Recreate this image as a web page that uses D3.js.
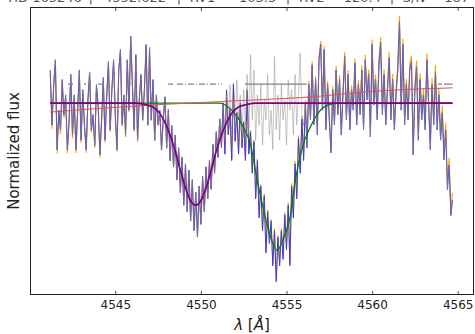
<!doctype HTML>
<html>
<head>
    <style>
        body { margin: 0; background: #fff; }
        text { font-family: "DejaVu Sans", sans-serif; }
    </style>
    <script src="https://d3js.org/d3.v7.min.js"></script>
</head>
<body>
<div id="spectrum"></div>
<script>

    // wavelength grid of the observed spectrum (Angstrom)
    var waveStart = 4541.2;
    var waveStep = 0.1;

    // observed normalized flux, one value per grid step
    var fluxObs = [
        1.052, 0.966, 1.029, 1.068, 0.927, 0.989, 0.958, 1.037,
        0.982, 1.013, 0.927, 0.974, 1.045, 0.950, 1.013, 0.927, 0.989, 1.052,
        0.942, 1.021, 0.966, 0.927, 1.005, 1.049, 0.958, 0.982, 0.934, 1.029,
        0.997, 0.919, 0.974, 1.040, 0.942, 1.013, 1.065, 0.958, 1.021, 1.068,
        0.982, 0.927, 1.052, 1.084, 0.966, 1.013, 0.950, 1.068, 0.989, 1.105,
        1.029, 0.958, 1.076, 0.942, 1.005, 1.045, 0.974, 1.021, 1.092, 0.966,
        1.087, 0.974, 1.037, 0.942, 1.013, 0.966, 0.989, 0.927, 0.974,
        1.01, 0.93, 0.99, 0.91, 0.965, 0.90, 0.95, 0.88, 0.93, 0.86,
        0.915, 0.84, 0.905, 0.83, 0.895, 0.815, 0.88, 0.80, 0.86, 0.79,
        0.87, 0.81, 0.885, 0.83, 0.90, 0.85, 0.91, 0.865, 0.935, 0.89,
        0.955, 0.915, 0.975, 0.93,
        1.00, 0.92, 1.02, 0.95, 0.99, 0.91, 1.03, 0.94, 0.985, 0.92,
        1.00, 0.93, 0.97, 0.91, 1.02, 0.92, 0.955, 0.89,
        0.94, 0.85, 0.91, 0.82, 0.87, 0.80, 0.855, 0.765, 0.83, 0.78,
        0.815, 0.745, 0.80, 0.72, 0.79, 0.745, 0.80, 0.755, 0.825, 0.77,
        0.84, 0.745, 0.87, 0.82, 0.905, 0.85, 0.945, 0.89, 0.975, 0.91,
        1.00, 0.93, 1.03,
        0.974, 1.060, 0.966, 1.037, 0.950, 1.068, 1.092, 0.989, 1.084, 0.958,
        1.029, 0.974, 0.922, 1.021, 0.966, 1.052, 0.982, 1.037, 0.950, 1.013,
        1.073, 0.974, 1.045, 0.958, 1.021, 0.989, 1.063, 0.966, 1.029, 0.982,
        1.052, 0.958, 1.068, 1.005, 1.045, 0.947, 1.092, 0.997, 1.037, 0.974,
        1.060, 1.095, 0.982, 1.045, 0.966, 1.021, 1.071, 0.974, 1.037, 0.958,
        1.013, 1.052, 1.128, 0.989, 1.092, 0.966, 1.029, 0.974, 1.052, 1.065,
        0.919, 1.021, 1.057, 0.942, 1.037, 0.974, 1.013, 0.958, 1.068, 0.997,
        0.927, 1.029, 0.966, 1.049, 0.958, 1.013, 0.942, 0.985, 0.911, 0.958,
        0.864, 0.903, 0.824, 0.848
    ];

    // spectrum with the second component removed, where it differs (grid index 101..148)
    var residStart = 101;
    var fluxResid = [
        0.997, 0.942, 1.013, 0.966, 1.029, 0.950, 1.005, 0.958, 1.037, 0.974,
        1.013, 0.942, 1.021, 0.966, 1.045, 0.950, 1.076, 0.974, 1.052, 0.942,
        1.013, 0.966, 1.029, 0.934, 1.005, 0.974, 1.045, 0.950, 0.989, 0.927,
        1.073, 0.958, 1.013, 0.942, 1.029, 0.974, 1.005, 0.934, 1.037, 0.989,
        1.021, 0.950, 1.045, 0.966, 1.013, 1.079, 0.982, 0.965
    ];

    // model profiles [wavelength, flux]
    var modelPrimary = [
        [4541.2, 1], [4546.2, 1], [4546.7, 0.998], [4547.2, 0.994], [4547.6, 0.984],
        [4547.9, 0.970], [4548.2, 0.950], [4548.5, 0.925], [4548.8, 0.895], [4549.1, 0.867],
        [4549.4, 0.847], [4549.7, 0.840], [4550.0, 0.847], [4550.3, 0.867], [4550.6, 0.895],
        [4550.9, 0.925], [4551.2, 0.950], [4551.5, 0.970], [4551.8, 0.984], [4552.2, 0.994],
        [4552.7, 0.998], [4553.2, 1], [4564.7, 1]
    ];
    var modelSecondary = [
        [4541.2, 1], [4551.1, 1.0], [4551.5, 0.996], [4551.9, 0.986], [4552.45, 0.964],
        [4552.9, 0.935], [4553.3, 0.878], [4553.75, 0.822], [4554.05, 0.792], [4554.45, 0.769],
        [4554.85, 0.790], [4555.2, 0.820], [4555.5, 0.876], [4555.9, 0.928], [4556.4, 0.963],
        [4556.95, 0.988], [4557.4, 0.997], [4558.1, 1.0], [4564.7, 1.0]
    ];
    var continuumFit = [
        [4541.2, 0.986], [4547.0, 0.997], [4550.0, 1.001], [4552.3, 1.004],
        [4557.0, 1.011], [4559.3, 1.017], [4564.7, 1.024]
    ];

    // masked regions drawn at the top level
    var maskLevel = 1.03;
    var maskRanges = [
        [4542.24, 4542.53], [4543.17, 4543.29], [4543.47, 4543.58], [4543.99, 4544.28],
        [4545.80, 4545.92], [4548.08, 4548.37], [4548.60, 4551.23], [4552.58, 4556.20],
        [4563.85, 4564.08], [4564.20, 4564.70]
    ];

    var xTicks = [4545, 4550, 4555, 4560, 4565];
    var titleParts = ["HD 165246", "4552.622", "RV1 = -103.5", "RV2 = 120.4", "S/N = 187"];

    // setup the canvas
    var canvasWidth = 475;
    var canvasHeight = 334;
    var pLeft = 30.5, pRight = 473.5, pTop = 7.5, pBottom = 294.5;

    var svg = d3.select("#spectrum").append("svg")
        .attr("width", canvasWidth)
        .attr("height", canvasHeight);

    var x = d3.scaleLinear().domain([4540.047, 4565.923]).range([pLeft, pRight]);
    var y = d3.scaleLinear().domain([0.7, 1.15]).range([pBottom, pTop]);

    // build the point tables
    var obsPts = fluxObs.map(function(f, i) { return [waveStart + waveStep * i, f]; });
    var grayPts = obsPts.map(function(p, i) {
        var k = i - residStart;
        if (k >= 0 && k < fluxResid.length) return [p[0], fluxResid[k]];
        return p;
    });

    var line = d3.line()
        .x(function(d) { return x(d[0]); })
        .y(function(d) { return y(d[1]); });
    var smooth = d3.line()
        .x(function(d) { return x(d[0]); })
        .y(function(d) { return y(d[1]); })
        .curve(d3.curveMonotoneX);

    svg.append("defs").append("clipPath").attr("id", "plotclip")
        .append("rect").attr("x", pLeft).attr("y", pTop)
        .attr("width", pRight - pLeft).attr("height", pBottom - pTop);

    var plot = svg.append("g").attr("clip-path", "url(#plotclip)");

    // spectra: the un-renormalized copy sits a little lower on the left, higher on the right
    var shear = -0.028;
    plot.append("path").datum(obsPts)
        .attr("d", line)
        .attr("transform", "matrix(1," + shear + ",0,1,0," + (4 - shear * 50) + ")")
        .attr("fill", "none")
        .attr("stroke", "#ffa500")
        .attr("stroke-width", 1.1);

    plot.append("path").datum(obsPts)
        .attr("d", line)
        .attr("fill", "none")
        .attr("stroke", "#3a3ae6")
        .attr("stroke-width", 1);

    plot.append("path").datum(grayPts)
        .attr("d", line)
        .attr("fill", "none")
        .attr("stroke", "#8c8c8c")
        .attr("stroke-opacity", 0.48)
        .attr("stroke-width", 1);

    // mask level
    plot.selectAll(".mask")
        .data(maskRanges)
        .join("line")
        .attr("class", "mask")
        .attr("x1", function(d) { return x(d[0]); })
        .attr("x2", function(d) { return x(d[1]); })
        .attr("y1", y(maskLevel))
        .attr("y2", y(maskLevel))
        .attr("stroke", "#808080")
        .attr("stroke-width", 1.2)
        .attr("stroke-dasharray", function(d) { return (d[1] - d[0] > 2 && d[0] < 4550) ? "6,2,1,2" : null; });

    // models
    plot.append("path").datum(modelSecondary)
        .attr("d", smooth)
        .attr("fill", "none")
        .attr("stroke", "#008000")
        .attr("stroke-width", 1.3);

    plot.append("path").datum(continuumFit)
        .attr("d", smooth)
        .attr("fill", "none")
        .attr("stroke", "#d9534f")
        .attr("stroke-width", 1);

    plot.append("path").datum(modelPrimary)
        .attr("d", smooth)
        .attr("fill", "none")
        .attr("stroke", "#800080")
        .attr("stroke-width", 1.7);

    // axes with inward ticks
    var xAxisBottom = svg.append("g")
        .attr("transform", "translate(0," + pBottom + ")")
        .call(d3.axisBottom(x).tickValues(xTicks).tickFormat(d3.format("d"))
            .tickSizeInner(-3.5).tickSizeOuter(0).tickPadding(6));
    xAxisBottom.select(".domain").remove();
    xAxisBottom.selectAll("text")
        .attr("font-size", "12px")
        .attr("font-family", "DejaVu Sans")
        .attr("fill", "#222");
    xAxisBottom.selectAll("line").attr("stroke", "#222").attr("stroke-width", 0.8);

    var xAxisTop = svg.append("g")
        .attr("transform", "translate(0," + pTop + ")")
        .call(d3.axisTop(x).tickValues(xTicks).tickFormat("")
            .tickSizeInner(-3.5).tickSizeOuter(0));
    xAxisTop.select(".domain").remove();
    xAxisTop.selectAll("line").attr("stroke", "#222").attr("stroke-width", 0.8);

    // frame
    svg.append("rect")
        .attr("x", pLeft).attr("y", pTop)
        .attr("width", pRight - pLeft).attr("height", pBottom - pTop)
        .attr("fill", "none")
        .attr("stroke", "#222")
        .attr("stroke-width", 1);

    // axis labels
    var xl = svg.append("text")
        .attr("x", (pLeft + pRight) / 2)
        .attr("y", 330)
        .attr("text-anchor", "middle")
        .attr("font-size", "15px")
        .attr("fill", "#222");
    xl.append("tspan").attr("font-style", "italic").text("λ");
    xl.append("tspan").text(" [");
    xl.append("tspan").attr("font-style", "italic").text("Å");
    xl.append("tspan").text("]");

    svg.append("text")
        .attr("transform", "translate(19," + ((pTop + pBottom) / 2) + ") rotate(-90)")
        .attr("text-anchor", "middle")
        .attr("font-size", "15px")
        .attr("fill", "#222")
        .text("Normalized flux");

    // title, mostly cut off by the top of the window
    var sepX = [90.7, 179, 288, 392];
    var partX = [45, 135, 233, 340, 436];
    svg.selectAll(".ttl")
        .data(titleParts)
        .join("text")
        .attr("class", "ttl")
        .attr("x", function(d, i) { return partX[i]; })
        .attr("y", 1.5)
        .attr("text-anchor", "middle")
        .attr("font-size", "13px")
        .attr("fill", "#555")
        .text(function(d) { return d; });
    svg.selectAll(".sep")
        .data(sepX)
        .join("text")
        .attr("class", "sep")
        .attr("x", function(d) { return d; })
        .attr("y", 1.5)
        .attr("text-anchor", "middle")
        .attr("font-size", "13px")
        .attr("fill", "#555")
        .text("|");

</script>
</body>
</html>
